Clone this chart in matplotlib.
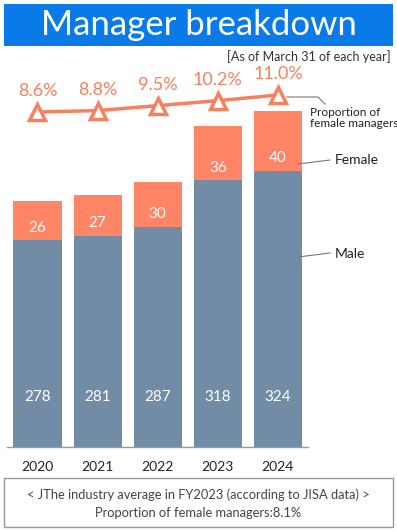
import matplotlib
matplotlib.use("Agg")
import matplotlib.pyplot as plt
from matplotlib.patches import Rectangle
import matplotlib.transforms as mtransforms

plt.rcParams['font.family'] = ['Lato', 'DejaVu Sans']

years = ["2020", "2021", "2022", "2023", "2024"]
male = [278, 281, 287, 318, 324]
female = [26, 27, 30, 36, 40]
ratio = [8.6, 8.8, 9.5, 10.2, 11.0]
ratio_labels = ["8.6%", "8.8%", "9.5%", "10.2%", "11.0%"]

title = "Manager breakdown"
subtitle = "[As of March 31 of each year]"
note_lines = ["< JThe industry average in FY2023 (according to JISA data) >",
              "Proportion of female managers:8.1%"]

C_BLUE = "#0A7AE8"
C_FEM = "#FF8566"
C_MALE = "#728CA6"
C_LINE = "#F7805F"

W, H = 397, 531
fig = plt.figure(figsize=(W / 100, H / 100), dpi=100)

def fx(px):
    return px / W

def fy(py):
    return 1 - py / H

# title banner
fig.patches.append(Rectangle((fx(4), fy(46)), fx(389), (42) / H,
                             transform=fig.transFigure, facecolor=C_BLUE,
                             edgecolor="none"))
fig.text(fx(199), fy(25), title, color="white", fontsize=25,
         ha="center", va="center")
fig.text(fx(391), fy(57), subtitle, color="#333333", fontsize=9,
         ha="right", va="center")

# main axes
ax_l, ax_r, ax_t, ax_b = 7, 308, 60, 447
ax = fig.add_axes([fx(ax_l), fy(ax_b), fx(ax_r - ax_l), (ax_b - ax_t) / H])
x = list(range(len(years)))
ax.bar(x, male, width=0.8, color=C_MALE, zorder=2)
ax.bar(x, female, bottom=male, width=0.8, color=C_FEM, zorder=2)
ax.set_xlim(-0.507, 4.5)
ax.set_ylim(140, 398)
for s in ["top", "right", "left"]:
    ax.spines[s].set_visible(False)
ax.spines["bottom"].set_color("#999999")
ax.spines["bottom"].set_linewidth(1)
ax.set_yticks([])
ax.set_xticks(x)
ax.set_xticklabels(years, fontsize=10, color="#222222")
ax.tick_params(axis="x", length=0, pad=10)

blend = mtransforms.blended_transform_factory(ax.transData, ax.transAxes)
for i in x:
    ax.text(i, 50 / (ax_b - ax_t), str(male[i]), transform=blend, color="white",
            fontsize=11, ha="center", va="center", zorder=3)
    ax.annotate(str(female[i]), (i, male[i]), xytext=(0, 9),
                textcoords="offset points", color="white",
                fontsize=11, ha="center", va="center", zorder=3)

# ratio line
ax2 = ax.twinx()
ax2.set_ylim(-38.7, 15.94)
ax2.axis("off")
ax2.plot(x, ratio, color=C_LINE, lw=2.5, marker="^", markersize=12,
         markerfacecolor="white", markeredgecolor=C_LINE, markeredgewidth=2.5,
         zorder=4, clip_on=False)
for i in x:
    ax2.annotate(ratio_labels[i], (i, ratio[i]), xytext=(0, 15),
                 textcoords="offset points", color=C_LINE, fontsize=13,
                 ha="center", va="center")

# leader lines and labels (figure coords)
def fline(xs, ys):
    fig.add_artist(plt.Line2D([fx(v) for v in xs], [fy(v) for v in ys],
                              transform=fig.transFigure, color="#777777",
                              lw=0.8))

fline([287, 318, 325], [97, 97, 104])
fig.text(fx(310), fy(118), "Proportion of\nfemale managers", fontsize=8.5,
         color="#222222", ha="left", va="center", linespacing=1.1)
fline([298, 330], [164, 160])
fig.text(fx(335), fy(160), "Female", fontsize=10, color="#222222",
         ha="left", va="center")
fline([298, 330], [257, 253])
fig.text(fx(335), fy(254), "Male", fontsize=10, color="#222222",
         ha="left", va="center")

# footnote box
fig.patches.append(Rectangle((fx(4), fy(527)), fx(389), 49 / H,
                             transform=fig.transFigure, facecolor="white",
                             edgecolor="#999999", lw=1))
fig.text(fx(198), fy(495), note_lines[0], fontsize=9.3, color="#444444",
         ha="center", va="center")
fig.text(fx(198), fy(513), note_lines[1], fontsize=9.3, color="#444444",
         ha="center", va="center")

fig.savefig("out.png", dpi=100)
